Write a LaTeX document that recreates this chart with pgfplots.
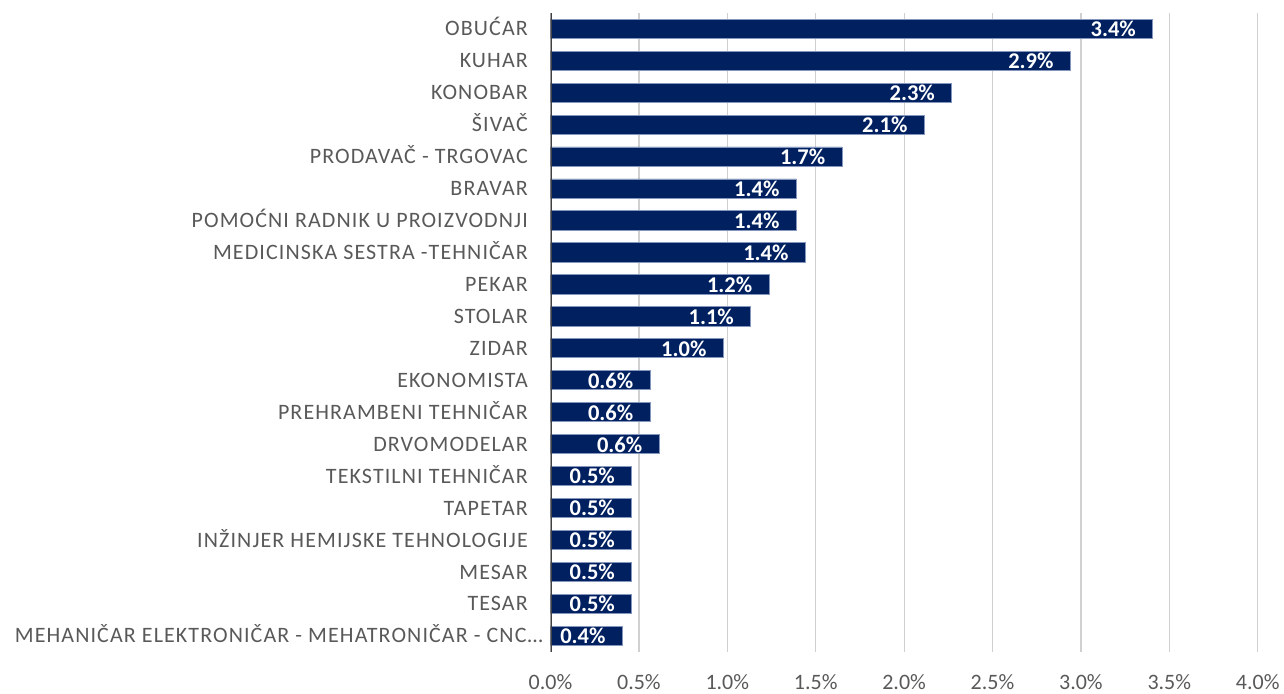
\documentclass[border=0pt]{standalone}
\usepackage{fontspec}
\setmainfont{Carlito}
\newfontfamily\catfont[LetterSpace=5]{Carlito}
\usepackage{pgfplots}
\pgfplotsset{compat=1.18}
\definecolor{barblue}{RGB}{0,32,96}
\definecolor{baredge}{RGB}{132,150,190}
\definecolor{lblgray}{RGB}{89,89,89}
\definecolor{gridgray}{RGB}{208,208,208}
\definecolor{axgray}{RGB}{64,64,64}
\begin{document}
\begin{tikzpicture}
\useasboundingbox (0,0) rectangle (1284pt,693pt);
\begin{axis}[
  at={(550.5pt,41.2pt)}, anchor=south west,
  scale only axis, width=707.2pt, height=639pt,
  xbar, bar width=19.2pt,
  xmin=0, xmax=4, ymin=-0.5, ymax=19.5,
  xtick={0,0.5,1,1.5,2,2.5,3,3.5,4},
  xticklabels={0.0\%,0.5\%,1.0\%,1.5\%,2.0\%,2.5\%,3.0\%,3.5\%,4.0\%},
  ytick={0,1,2,3,4,5,6,7,8,9,10,11,12,13,14,15,16,17,18,19},
  yticklabels={MEHANIČAR ELEKTRONIČAR - MEHATRONIČAR - CNC…\kern-15pt,TESAR,MESAR,INŽINJER HEMIJSKE TEHNOLOGIJE,TAPETAR,TEKSTILNI TEHNIČAR,DRVOMODELAR,PREHRAMBENI TEHNIČAR,EKONOMISTA,ZIDAR,STOLAR,PEKAR,MEDICINSKA SESTRA -TEHNIČAR,POMOĆNI RADNIK U PROIZVODNJI,BRAVAR,PRODAVAČ - TRGOVAC,ŠIVAČ,KONOBAR,KUHAR,OBUĆAR},
  major tick length=0pt,
  axis line style={draw=none},
  xmajorgrids, grid style={gridgray, line width=1.2pt},
  tick label style={font=\fontsize{22}{26}\selectfont, text=lblgray, inner sep=0pt},
  x tick label style={anchor=base, yshift=-38pt},
  y tick label style={font=\catfont\fontsize{22}{26}\selectfont, anchor=base east, xshift=-22.5pt, yshift=-7.1pt},
  point meta=explicit symbolic,
  nodes near coords={\pgfplotspointmeta\%},
  every node near coord/.append style={anchor=base east, xshift=-16.4pt, yshift=-7.9pt, inner sep=0pt, text=white, font=\fontsize{22.5}{26}\selectfont\bfseries},
]
\addplot[fill=barblue, draw=baredge, line width=0.8pt] coordinates {
(0.406,0) [0.4]
(0.459,1) [0.5]
(0.459,2) [0.5]
(0.459,3) [0.5]
(0.459,4) [0.5]
(0.459,5) [0.5]
(0.614,6) [0.6]
(0.563,7) [0.6]
(0.563,8) [0.6]
(0.977,9) [1.0]
(1.132,10) [1.1]
(1.236,11) [1.2]
(1.441,12) [1.4]
(1.390,13) [1.4]
(1.390,14) [1.4]
(1.649,15) [1.7]
(2.114,16) [2.1]
(2.269,17) [2.3]
(2.940,18) [2.9]
(3.406,19) [3.4]
};
\draw[axgray, line width=2.6pt] (axis cs:0,-0.5) -- (axis cs:0,19.5);
\end{axis}
\end{tikzpicture}
\end{document}
